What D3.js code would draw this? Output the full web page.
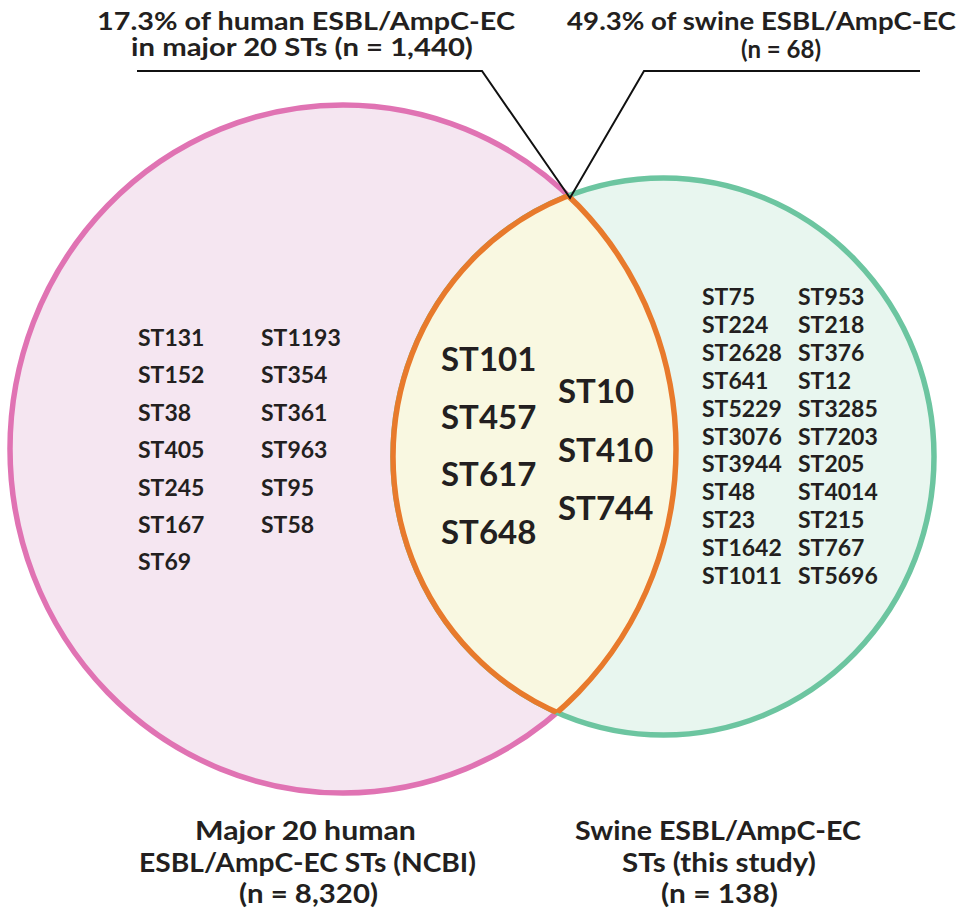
<!DOCTYPE html>
<html>
<head>
<meta charset="utf-8">
<script src="https://cdn.jsdelivr.net/npm/d3@7/dist/d3.min.js"></script>
<style>
  html, body { margin: 0; padding: 0; background: #ffffff; }
  svg { display: block; }
  text { font-family: Lato, "Open Sans", sans-serif; font-weight: 700; fill: #231f20; }
</style>
</head>
<body>
<svg id="chart" width="974" height="912"></svg>
<script>
// ---------------- data ----------------
const setNames = ["Major 20 human ESBL/AmpC-EC STs (NCBI)", "Swine ESBL/AmpC-EC STs (this study)"];
const setSizes = [8320, 138];
const humanLabelLines = ["Major 20 human", "ESBL/AmpC-EC STs (NCBI)", "(n = 8,320)"];
const swineLabelLines = ["Swine ESBL/AmpC-EC", "STs (this study)", "(n = 138)"];
const humanCalloutLines = ["17.3% of human ESBL/AmpC-EC", "in major 20 STs (n = 1,440)"];
const swineCalloutLines = ["49.3% of swine ESBL/AmpC-EC", "(n = 68)"];

const humanOnlyCol1 = ["ST131", "ST152", "ST38", "ST405", "ST245", "ST167", "ST69"];
const humanOnlyCol2 = ["ST1193", "ST354", "ST361", "ST963", "ST95", "ST58"];
const sharedCol1 = ["ST101", "ST457", "ST617", "ST648"];
const sharedCol2 = ["ST10", "ST410", "ST744"];
const swineOnlyCol1 = ["ST75", "ST224", "ST2628", "ST641", "ST5229", "ST3076", "ST3944", "ST48", "ST23", "ST1642", "ST1011"];
const swineOnlyCol2 = ["ST953", "ST218", "ST376", "ST12", "ST3285", "ST7203", "ST205", "ST4014", "ST215", "ST767", "ST5696"];

// ---------------- layout ----------------
const svg = d3.select("#chart");
const pink = { cx: 343, cy: 449, rx: 333, ry: 344 };
const green = { cx: 663.5, cy: 456.5, rx: 270.5, ry: 278.5 };
const C = {
  pinkStroke: "#e073b3", pinkFill: "#f5e6f1",
  greenStroke: "#6cc5a0", greenFill: "#e8f6ef",
  orange: "#e87a2c", lensFill: "#f9f8e1"
};
const SW = 5.5;

const defs = svg.append("defs");
defs.append("clipPath").attr("id", "clipPink").append("ellipse")
  .attr("cx", pink.cx).attr("cy", pink.cy).attr("rx", pink.rx).attr("ry", pink.ry);
defs.append("clipPath").attr("id", "clipGreen").append("ellipse")
  .attr("cx", green.cx).attr("cy", green.cy).attr("rx", green.rx).attr("ry", green.ry);

function ell(g, e) {
  return g.append("ellipse").attr("cx", e.cx).attr("cy", e.cy).attr("rx", e.rx).attr("ry", e.ry);
}

const sets = [
  { e: pink, fill: C.pinkFill, stroke: C.pinkStroke },
  { e: green, fill: C.greenFill, stroke: C.greenStroke }
];
const gSets = svg.append("g");
sets.forEach(s => ell(gSets, s.e).attr("fill", s.fill).attr("stroke", s.stroke).attr("stroke-width", SW));

// lens
ell(svg, pink).attr("fill", C.lensFill).attr("clip-path", "url(#clipGreen)");
ell(svg, green).attr("fill", "none").attr("stroke", C.orange).attr("stroke-width", SW).attr("clip-path", "url(#clipPink)");
ell(svg, pink).attr("fill", "none").attr("stroke", C.orange).attr("stroke-width", SW).attr("clip-path", "url(#clipGreen)");

// callout leader lines
const apex = [570, 198];
const line = d3.line();
svg.append("path").attr("d", line([[137, 71], [482, 71], apex, [644, 71], [920, 71]]))
  .attr("fill", "none").attr("stroke", "#111").attr("stroke-width", 2).attr("stroke-linejoin", "miter");

// ---------------- ST labels ----------------
function column(list, x, y0, step, size) {
  const y = d3.scaleLinear().domain([0, 1]).range([y0, y0 + step]);
  svg.append("g").selectAll("text").data(list).join("text")
    .attr("x", x).attr("y", (d, i) => y(i))
    .attr("font-size", size)
    .text(d => d);
}
column(humanOnlyCol1, 138, 346, 37.4, 23);
column(humanOnlyCol2, 261, 346, 37.4, 23);
column(sharedCol1, 441, 371, 57.5, 33);
column(sharedCol2, 558, 403, 58.5, 33);
column(swineOnlyCol1, 702, 305, 27.9, 23);
column(swineOnlyCol2, 798, 305, 27.9, 23);

// ---------------- titles / labels ----------------
// each line centred at cx, optionally stretched horizontally to the reference width
function fitted(lines, specs, size) {
  const g = svg.append("g");
  lines.forEach((txt, i) => {
    const s = specs[i];
    const t = g.append("text").attr("text-anchor", "middle").attr("font-size", size)
      .attr("x", 0).attr("y", 0).text(txt);
    const w = t.node().getComputedTextLength();
    const k = s.w ? Math.max(0.9, Math.min(1.25, s.w / w)) : 1;
    t.attr("transform", `translate(${s.cx},${s.y}) scale(${k},1)`);
  });
}
fitted(humanCalloutLines, [{ cx: 306, y: 29.5, w: 418 }, { cx: 302, y: 56, w: 342 }], 24);
fitted(swineCalloutLines, [{ cx: 761.5, y: 29.5, w: 389 }, { cx: 781, y: 57.5, w: null }], 24);
fitted(humanLabelLines, [{ cx: 305.5, y: 840, w: 221 }, { cx: 307.5, y: 872, w: 337 }, { cx: 308.5, y: 903, w: 139 }], 27);
fitted(swineLabelLines, [{ cx: 718, y: 840, w: 286 }, { cx: 719, y: 872, w: 194 }, { cx: 719.5, y: 903, w: 117 }], 27);
</script>
</body>
</html>
